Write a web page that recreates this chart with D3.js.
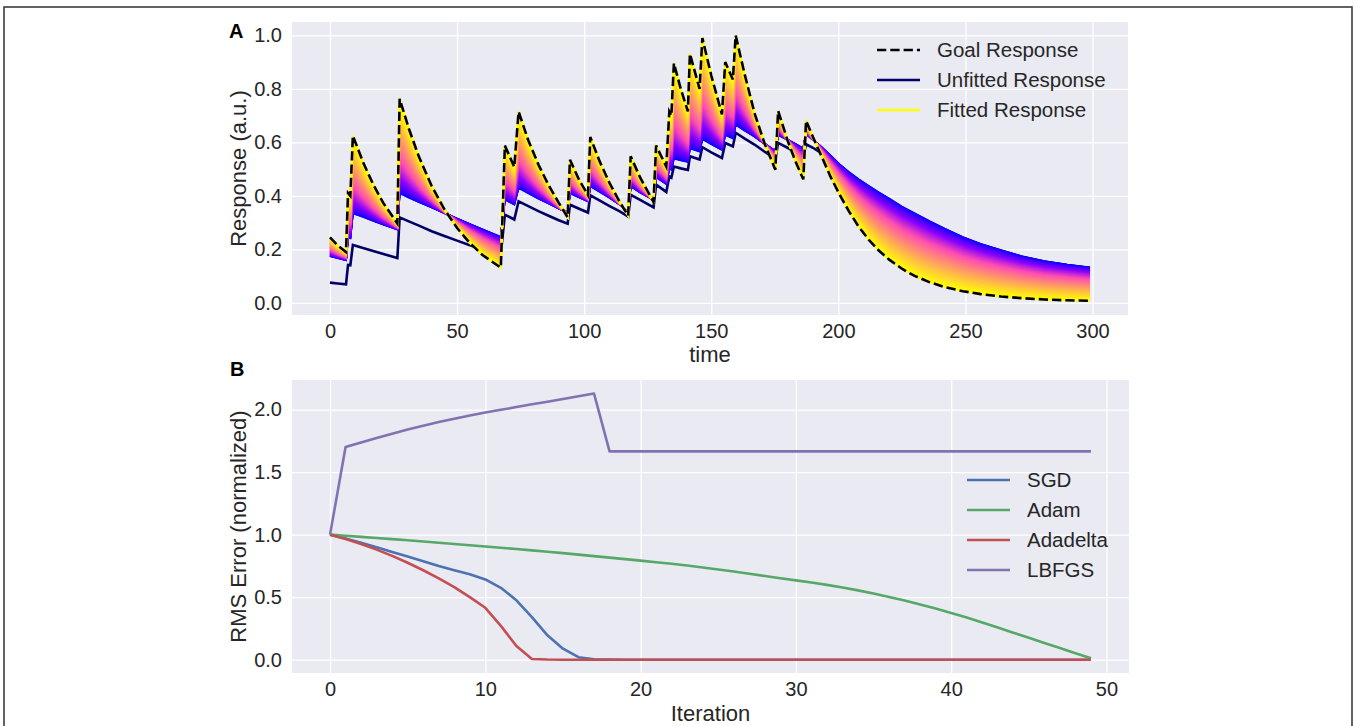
<!DOCTYPE html>
<html><head><meta charset="utf-8">
<script src="https://cdn.jsdelivr.net/npm/d3@7"></script>
<style>
html,body{margin:0;padding:0;background:#fff;}
svg{display:block;font-family:"Liberation Sans",Arial,sans-serif;}
</style></head><body>
<svg id="chart" width="1357" height="726"></svg>
<script>
// ---------- Panel A data (time, response) ----------
const times = [0,3,6.3,7.1,8.0,9.0,13,17,21,26.5,27.4,31,35,40,45,50,55,60,67.2,68.8,72.5,74.2,78,82,86,90,93.5,94.4,98,101.5,102.4,106,110,114,117.3,118.3,122,127.3,128.3,132.3,133.5,134.3,135.3,138,140.8,141.6,145.4,146.5,150,154.2,155.5,158.5,159.6,163,167,171,175.2,176.3,180,183,186.2,187.3,190,193.3,197,200.5,204,208,212,216,220,225,230,236,242,249,256,264,272,281,290,299];
const goalResponse = [0.245,0.215,0.19,0.41,0.40,0.625,0.526,0.443,0.373,0.297,0.763,0.652,0.546,0.437,0.35,0.28,0.224,0.179,0.132,0.588,0.508,0.715,0.608,0.517,0.44,0.374,0.32,0.535,0.46,0.403,0.62,0.531,0.448,0.377,0.326,0.548,0.469,0.377,0.588,0.51,0.715,0.70,0.896,0.80,0.716,0.931,0.80,0.99,0.85,0.705,0.90,0.835,1.0,0.86,0.71,0.595,0.498,0.718,0.608,0.532,0.462,0.681,0.62,0.55,0.47,0.405,0.345,0.285,0.236,0.195,0.162,0.128,0.101,0.077,0.059,0.044,0.033,0.024,0.018,0.013,0.010,0.008];
const unfittedResponse = [0.076,0.073,0.07,0.142,0.141,0.217,0.205,0.194,0.183,0.168,0.32,0.305,0.289,0.268,0.25,0.233,0.216,0.202,0.183,0.33,0.312,0.38,0.362,0.343,0.326,0.309,0.296,0.367,0.352,0.338,0.402,0.383,0.362,0.342,0.323,0.404,0.385,0.357,0.442,0.415,0.473,0.468,0.51,0.503,0.497,0.548,0.536,0.582,0.563,0.542,0.598,0.585,0.636,0.615,0.592,0.565,0.538,0.598,0.58,0.565,0.548,0.593,0.58,0.56,0.535,0.505,0.48,0.453,0.429,0.406,0.383,0.354,0.33,0.3,0.273,0.243,0.218,0.195,0.173,0.155,0.142,0.131];
const firstFitResponse = [0.175,0.168,0.16,0.245,0.242,0.335,0.322,0.307,0.293,0.275,0.41,0.394,0.377,0.357,0.336,0.315,0.295,0.275,0.247,0.386,0.368,0.43,0.41,0.39,0.372,0.353,0.338,0.41,0.395,0.38,0.436,0.416,0.393,0.368,0.34,0.436,0.413,0.386,0.47,0.445,0.503,0.498,0.54,0.533,0.527,0.578,0.566,0.612,0.593,0.572,0.628,0.615,0.666,0.645,0.622,0.595,0.568,0.628,0.61,0.595,0.578,0.632,0.61,0.583,0.55,0.518,0.49,0.462,0.437,0.413,0.39,0.36,0.335,0.305,0.277,0.246,0.221,0.197,0.175,0.156,0.143,0.132];
const fitIterationCount = 50;
const timeTicks = [0,50,100,150,200,250,300];
const responseTicks = [0.0,0.2,0.4,0.6,0.8,1.0];
const legendA = ["Goal Response","Unfitted Response","Fitted Response"];

// ---------- Panel B data (RMS error per iteration) ----------
const iterations = d3.range(50);
const sgd = [1.0,0.97,0.935,0.9,0.862,0.825,0.787,0.75,0.716,0.683,0.642,0.575,0.475,0.34,0.195,0.088,0.02,0.004,0.001,0,0,0,0,0,0,0,0,0,0,0,0,0,0,0,0,0,0,0,0,0,0,0,0,0,0,0,0,0,0,0];
const adam = [1.0,0.991,0.982,0.973,0.964,0.955,0.945,0.935,0.925,0.915,0.905,0.895,0.885,0.874,0.863,0.852,0.84,0.828,0.816,0.804,0.792,0.7795,0.7665,0.7525,0.7375,0.7215,0.7045,0.687,0.669,0.651,0.634,0.617,0.598,0.577,0.554,0.529,0.502,0.473,0.442,0.409,0.374,0.337,0.298,0.257,0.216,0.175,0.134,0.093,0.052,0.011];
const adadelta = [1.0,0.965,0.925,0.88,0.83,0.775,0.715,0.65,0.58,0.5,0.415,0.27,0.11,0.005,0.001,0,0,0,0,0,0,0,0,0,0,0,0,0,0,0,0,0,0,0,0,0,0,0,0,0,0,0,0,0,0,0,0,0,0,0];
const lbfgs = [1.0,1.70,1.737,1.773,1.807,1.84,1.871,1.90,1.927,1.952,1.976,1.998,2.02,2.042,2.063,2.085,2.107,2.128,1.666,1.666,1.666,1.666,1.666,1.666,1.666,1.666,1.666,1.666,1.666,1.666,1.666,1.666,1.666,1.666,1.666,1.666,1.666,1.666,1.666,1.666,1.666,1.666,1.666,1.666,1.666,1.666,1.666,1.666,1.666,1.666];
const optimizerNames = ["SGD","Adam","Adadelta","LBFGS"];
const optimizerColors = ["#4C72B0","#55A868","#C44E52","#8172B2"];
const iterTicks = [0,10,20,30,40,50];
const errorTicks = [0.0,0.5,1.0,1.5,2.0];

// ---------- helpers ----------
function gnuplot2(x){
  const c=v=>Math.max(0,Math.min(1,v));
  const r=c(x/0.32-0.78125), g=c(2*x-0.84);
  const b=c(x<0.25?4*x:x<0.42?1:x<0.92?-2*x+1.84:x/0.08-11.5);
  return d3.rgb(r*255,g*255,b*255).formatHex();
}
const svg = d3.select("#chart");
const FONT_TICK = "20px", FONT_LABEL = "22px", FONT_LEG = "20.5px";
const TXT = "#262626";

svg.append("rect").attr("x",4).attr("y",7).attr("width",1348).attr("height",760)
  .attr("fill","none").attr("stroke","#3c3c3c").attr("stroke-width",1.6);

function panel(x, y, L, R, T, B, xt, yt, yfmt){
  svg.append("rect").attr("x",L).attr("y",T).attr("width",R-L).attr("height",B-T).attr("fill","#EAEAF2");
  const gx = svg.append("g").attr("transform",`translate(0,${B})`)
    .call(d3.axisBottom(x).tickValues(xt).tickSize(-(B-T)).tickPadding(9).tickFormat(d3.format("d")));
  const gy = svg.append("g").attr("transform",`translate(${L},0)`)
    .call(d3.axisLeft(y).tickValues(yt).tickSize(-(R-L)).tickPadding(10).tickFormat(yfmt));
  [gx,gy].forEach(g=>{
    g.select(".domain").remove();
    g.selectAll(".tick line").attr("stroke","#ffffff").attr("stroke-width",1.3);
    g.selectAll(".tick text").attr("fill",TXT).style("font-size",FONT_TICK);
  });
}

// ---------- Panel A ----------
const LA=292,RA=1128,TA=22,BA=315;
const xA = d3.scaleLinear().domain([-14.95,313.95]).range([LA,RA]);
const yA = d3.scaleLinear().domain([-0.045,1.05]).range([BA,TA]);
panel(xA,yA,LA,RA,TA,BA,timeTicks,responseTicks,d3.format(".1f"));

const lineA = d3.line().x(d=>xA(d[0])).y(d=>yA(d[1]));
const zipT = vals => times.map((t,j)=>[t,vals[j]]);

svg.append("path").attr("d",lineA(zipT(unfittedResponse)))
  .attr("fill","none").attr("stroke",gnuplot2(0.1)).attr("stroke-width",2.6);

// fitting iterations: each drawn between the first fit and the goal, coloured by iteration
const bandG = svg.append("g");
for(let i=0;i<fitIterationCount;i++){
  const u = i/(fitIterationCount-1);
  const w = Math.pow(u,1.35);
  const vals = firstFitResponse.map((f,j)=>f + w*(goalResponse[j]-f));
  bandG.append("path").attr("d",lineA(zipT(vals)))
    .attr("fill","none").attr("stroke",gnuplot2(0.25+0.67*u)).attr("stroke-width",1.9);
}
svg.append("path").attr("d",lineA(zipT(goalResponse)))
  .attr("fill","none").attr("stroke","#000").attr("stroke-width",2.6)
  .attr("stroke-dasharray","9.3,4");

// legend A
const legAStyles = [
  {stroke:"#000",dash:"9.3,4"},
  {stroke:gnuplot2(0.1),dash:null},
  {stroke:gnuplot2(0.92),dash:null}
];
legendA.forEach((name,k)=>{
  const yy = 50 + k*30;
  svg.append("line").attr("x1",877).attr("x2",920).attr("y1",yy).attr("y2",yy)
    .attr("stroke",legAStyles[k].stroke).attr("stroke-width",2.6)
    .attr("stroke-dasharray",legAStyles[k].dash);
  svg.append("text").attr("x",937).attr("y",yy).attr("dy","0.35em")
    .style("font-size",FONT_LEG).attr("fill",TXT).text(name);
});

svg.append("text").attr("x",(LA+RA)/2).attr("y",362).attr("text-anchor","middle")
  .style("font-size",FONT_LABEL).attr("fill",TXT).text("time");
svg.append("text").attr("transform",`translate(246,${(TA+BA)/2}) rotate(-90)`).attr("text-anchor","middle")
  .style("font-size",FONT_LABEL).attr("fill",TXT).text("Response (a.u.)");
svg.append("text").attr("x",229).attr("y",37.5).style("font-size","20px").style("font-weight","bold")
  .attr("fill","#000").text("A");

// ---------- Panel B ----------
const LB=292,RB=1129,TB=380,BB=673;
const xB = d3.scaleLinear().domain([-2.45,51.45]).range([LB,RB]);
const yB = d3.scaleLinear().domain([-0.1065,2.2365]).range([BB,TB]);
panel(xB,yB,LB,RB,TB,BB,iterTicks,errorTicks,d3.format(".1f"));

const lineB = d3.line().x((d,i)=>xB(iterations[i])).y(d=>yB(d));
[sgd,adam,adadelta,lbfgs].forEach((s,k)=>{
  svg.append("path").attr("d",lineB(s)).attr("fill","none")
    .attr("stroke",optimizerColors[k]).attr("stroke-width",2.6).attr("stroke-linejoin","round");
});
optimizerNames.forEach((name,k)=>{
  const yy = 480 + k*30;
  svg.append("line").attr("x1",967).attr("x2",1010).attr("y1",yy).attr("y2",yy)
    .attr("stroke",optimizerColors[k]).attr("stroke-width",2.6);
  svg.append("text").attr("x",1027).attr("y",yy).attr("dy","0.35em")
    .style("font-size",FONT_LEG).attr("fill",TXT).text(name);
});
svg.append("text").attr("x",(LB+RB)/2).attr("y",721).attr("text-anchor","middle")
  .style("font-size",FONT_LABEL).attr("fill",TXT).text("Iteration");
svg.append("text").attr("transform",`translate(246,${(TB+BB)/2}) rotate(-90)`).attr("text-anchor","middle")
  .style("font-size",FONT_LABEL).attr("fill",TXT).text("RMS Error (normalized)");
svg.append("text").attr("x",230).attr("y",376).style("font-size","20px").style("font-weight","bold")
  .attr("fill","#000").text("B");
</script>
</body></html>
